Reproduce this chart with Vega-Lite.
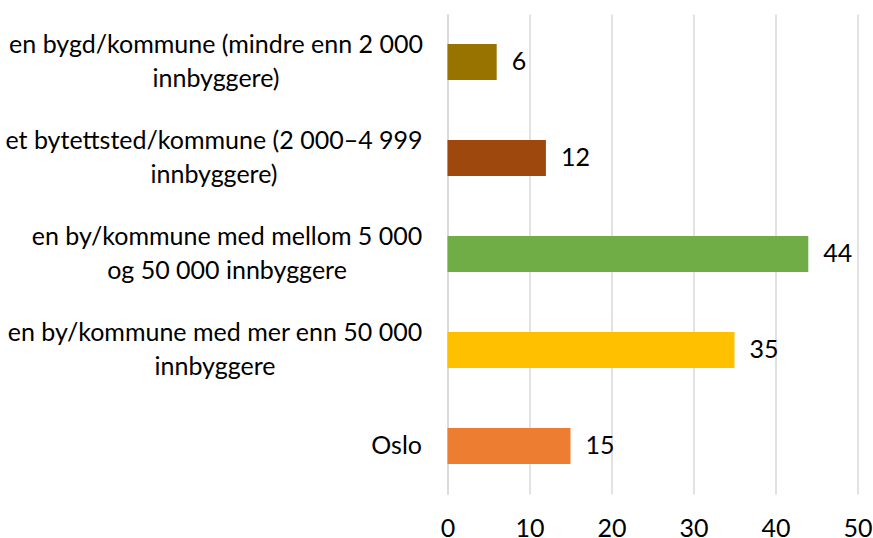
{
  "$schema": "https://vega.github.io/schema/vega-lite/v6.json",
  "width": 410,
  "height": 480,
  "autosize": {"type": "none"},
  "padding": {"left": 447.5, "top": 14, "right": 15.5, "bottom": 44},
  "background": "white",
  "config": {"view": {"stroke": null}, "font": "Lato"},
  "data": {
    "values": [
      {"category": "en bygd/kommune (mindre enn 2 000|innbyggere)", "value": 6},
      {"category": "et bytettsted/kommune (2 000–4 999|innbyggere)", "value": 12},
      {"category": "en by/kommune med mellom 5 000|og 50 000 innbyggere", "value": 44},
      {"category": "en by/kommune med mer enn 50 000|innbyggere", "value": 35},
      {"category": "Oslo", "value": 15}
    ]
  },
  "encoding": {
    "y": {
      "field": "category",
      "type": "nominal",
      "sort": null,
      "scale": {"paddingInner": 0.625, "paddingOuter": 0.3125},
      "axis": {
        "title": null,
        "labelExpr": "split(datum.label, '|')",
        "labelFont": "Lato",
        "labelFontSize": 25,
        "labelColor": "black",
        "labelLineHeight": 34,
        "ticks": false,
        "tickSize": 0,
        "domainColor": "#D9D9D9",
        "domainWidth": 1.5,
        "labelBaseline": "middle",
        "labelLimit": 0,
        "labelAlign": {"condition": {"test": "datum.value == 'Oslo'", "value": "right"}, "value": "center"},
        "labelOffset": {"condition": {"test": "datum.value == 'Oslo'", "value": 0}, "value": -17},
        "labelPadding": {
          "condition": [
            {"test": "datum.value == 'Oslo'", "value": 26},
            {"test": "datum.value == 'en by/kommune med mellom 5 000|og 50 000 innbyggere'", "value": 221},
            {"test": "datum.value == 'et bytettsted/kommune (2 000–4 999|innbyggere)'", "value": 234},
            {"test": "datum.value == 'en by/kommune med mer enn 50 000|innbyggere'", "value": 233}
          ],
          "value": 232
        }
      }
    }
  },
  "layer": [
    {
      "mark": {"type": "bar"},
      "encoding": {
        "x": {
          "field": "value",
          "type": "quantitative",
          "scale": {"domain": [0, 50]},
          "axis": {
            "values": [0, 10, 20, 30, 40, 50],
            "title": null,
            "domain": false,
            "ticks": false,
            "tickSize": 0,
            "labelFlush": false,
            "labelPadding": 42,
            "labelBaseline": "alphabetic",
            "gridColor": "#D9D9D9",
            "gridWidth": 1.5,
            "labelFont": "Lato",
            "labelFontSize": 25,
            "labelColor": "black"
          }
        },
        "color": {
          "field": "category",
          "type": "nominal",
          "legend": null,
          "scale": {
            "domain": [
              "en bygd/kommune (mindre enn 2 000|innbyggere)",
              "et bytettsted/kommune (2 000–4 999|innbyggere)",
              "en by/kommune med mellom 5 000|og 50 000 innbyggere",
              "en by/kommune med mer enn 50 000|innbyggere",
              "Oslo"
            ],
            "range": ["#997300", "#9E480E", "#70AD47", "#FFC000", "#ED7D31"]
          }
        }
      }
    },
    {
      "mark": {"type": "text", "align": "left", "baseline": "middle", "dx": 15, "fontSize": 25, "font": "Lato", "color": "black"},
      "encoding": {
        "x": {"field": "value", "type": "quantitative"},
        "text": {"field": "value", "type": "quantitative"}
      }
    }
  ]
}
